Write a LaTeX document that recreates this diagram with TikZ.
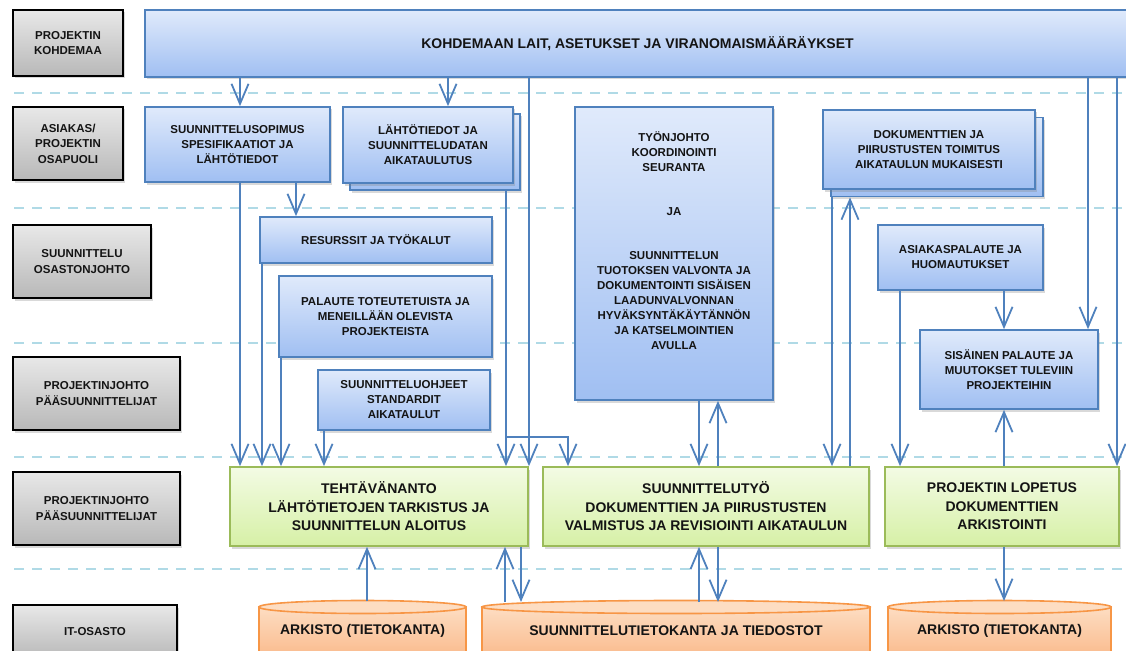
\documentclass[tikz,border=0pt]{standalone}
\usepackage{fontspec}
\setmainfont{Liberation Sans}
\usetikzlibrary{arrows.meta,shadows}
\definecolor{conn}{HTML}{4F81BD}
\definecolor{bborder}{HTML}{4F81BD}
\definecolor{btop}{HTML}{E0EAFB}
\definecolor{bbot}{HTML}{A0BFF2}
\definecolor{gtop}{HTML}{F3FBE4}
\definecolor{gbot}{HTML}{D6F0A6}
\definecolor{gborder}{HTML}{9BBB59}
\definecolor{otop}{HTML}{FDDDC2}
\definecolor{obot}{HTML}{F9B381}
\definecolor{oborder}{HTML}{F79646}
\definecolor{ltop}{HTML}{E8E8E8}
\definecolor{lbot}{HTML}{B8B8B8}
\definecolor{dashc}{HTML}{B0DAE6}
\definecolor{txt}{HTML}{141414}
\begin{document}
\begin{tikzpicture}[x=1pt,y=-1pt,
  base/.style={align=center, inner sep=2pt, text=txt, font=\bfseries\fontsize{11.5}{15}\selectfont},
  shad/.style={drop shadow={shadow xshift=2pt,shadow yshift=-2.5pt,opacity=0.3}},
  lbl/.style={base, shad, draw=black, line width=2.6pt, top color=ltop, bottom color=lbot, font=\bfseries\fontsize{11.5}{15.5}\selectfont},
  bbox/.style={base, shad, draw=bborder, line width=1.7pt, top color=btop, bottom color=bbot},
  gbox/.style={base, shad, draw=gborder, line width=1.7pt, top color=gtop, bottom color=gbot, font=\bfseries\fontsize{14}{18.5}\selectfont},
  sep/.style={draw=dashc, line width=2.3pt, dash pattern=on 10pt off 8pt},
  arr/.style={draw=conn, line width=1.8pt, -{Straight Barb[length=20pt,width=17pt]}},
  cylbody/.style={draw=oborder, line width=1.6pt, top color=otop, bottom color=obot},
  cyltop/.style={draw=oborder, line width=1.6pt, fill=otop},
  ctext/.style={base, font=\bfseries\fontsize{14}{17}\selectfont}
]
\useasboundingbox (0,0) rectangle (1126,650);
\clip (0,0) rectangle (1126,650);

% separators
\foreach \yy in {93,208,343,457,569} {\draw[sep] (14,\yy) -- (1126,\yy);}

% lane labels
\node[lbl, minimum width=110pt, minimum height=66pt] (l1) at (68,43) {PROJEKTIN\\KOHDEMAA};
\node[lbl, minimum width=110pt, minimum height=73pt] (l2) at (68,143.5) {ASIAKAS/\\PROJEKTIN\\OSAPUOLI};
\node[lbl, minimum width=138pt, minimum height=73pt] (l3) at (82,261.5) {SUUNNITTELU\\OSASTONJOHTO};
\node[lbl, minimum width=167pt, minimum height=73pt] (l4) at (96.5,393.5) {PROJEKTINJOHTO\\PÄÄSUUNNITTELIJAT};
\node[lbl, minimum width=167pt, minimum height=73pt] (l5) at (96.5,508.5) {PROJEKTINJOHTO\\PÄÄSUUNNITTELIJAT};
\node[lbl, minimum width=164pt, minimum height=54pt] (l6) at (95,632) {IT-OSASTO};

% top box
\node[bbox, minimum width=985pt, minimum height=67pt, font=\bfseries\fontsize{14}{17}\selectfont] (top) at (637.5,43.5) {KOHDEMAAN LAIT, ASETUKSET JA VIRANOMAISMÄÄRÄYKSET};

% row 2
\node[bbox, minimum width=185pt, minimum height=75pt] (sopimus) at (237.5,144.5) {SUUNNITTELUSOPIMUS\\SPESIFIKAATIOT JA\\LÄHTÖTIEDOT};
\node[bbox, minimum width=170pt, minimum height=76pt] (lahtoBack) at (435,152) {};
\node[bbox, minimum width=170pt, minimum height=76pt] (lahto) at (428,145) {LÄHTÖTIEDOT JA\\SUUNNITTELUDATAN\\AIKATAULUTUS};
\node[bbox, minimum width=198pt, minimum height=293pt] (tyon) at (674,253.5) {};
\node[base, anchor=north, inner sep=0pt] (tyontext) at (674,131) {TYÖNJOHTO\\KOORDINOINTI\\SEURANTA\\[29pt]JA\\[29pt]SUUNNITTELUN\\TUOTOKSEN VALVONTA JA\\DOKUMENTOINTI SISÄISEN\\LAADUNVALVONNAN\\HYVÄKSYNTÄKÄYTÄNNÖN\\JA KATSELMOINTIEN\\AVULLA};
\node[bbox, minimum width=212pt, minimum height=79pt] (dokBack) at (937,157) {};
\node[bbox, minimum width=212pt, minimum height=79pt] (dok) at (929,149.5) {DOKUMENTTIEN JA\\PIIRUSTUSTEN TOIMITUS\\AIKATAULUN MUKAISESTI};

% row 3/4
\node[bbox, minimum width=232pt, minimum height=46pt] (resurssit) at (376,240) {RESURSSIT JA TYÖKALUT};
\node[bbox, minimum width=213pt, minimum height=81pt] (palaute) at (385.5,316.5) {PALAUTE TOTEUTETUISTA JA\\MENEILLÄÄN OLEVISTA\\PROJEKTEISTA};
\node[bbox, minimum width=172pt, minimum height=60pt] (ohjeet) at (404,400) {SUUNNITTELUOHJEET\\STANDARDIT\\AIKATAULUT};
\node[bbox, minimum width=165pt, minimum height=65pt] (asiakas) at (960.5,257.5) {ASIAKASPALAUTE JA\\HUOMAUTUKSET};
\node[bbox, minimum width=178pt, minimum height=79pt] (sisainen) at (1009,369.5) {SISÄINEN PALAUTE JA\\MUUTOKSET TULEVIIN\\PROJEKTEIHIN};

% green row
\node[gbox, minimum width=298pt, minimum height=79pt] (teht) at (379,506.5) {TEHTÄVÄNANTO\\LÄHTÖTIETOJEN TARKISTUS JA\\SUUNNITTELUN ALOITUS};
\node[gbox, minimum width=326pt, minimum height=79pt] (suunn) at (706,506.5) {SUUNNITTELUTYÖ\\DOKUMENTTIEN JA PIIRUSTUSTEN\\VALMISTUS JA REVISIOINTI AIKATAULUN};
\node[gbox, minimum width=234pt, minimum height=79pt] (lopetus) at (1002,506.5) {PROJEKTIN LOPETUS\\DOKUMENTTIEN\\ARKISTOINTI};

% cylinders
\path[cylbody] (259,607) rectangle (466,668);
\draw[cyltop] (362.5,607) ellipse [x radius=103.5, y radius=6.5];
\coordinate (cylLtop) at (362.5,601);
\node[ctext] (cylL) at (362.5,631) {ARKISTO (TIETOKANTA)};
\path[cylbody] (482,607) rectangle (870,668);
\draw[cyltop] (676,607) ellipse [x radius=194, y radius=6.5];
\coordinate (cylMtop) at (676,602);
\node[ctext] (cylM) at (676,631) {SUUNNITTELUTIETOKANTA JA TIEDOSTOT};
\path[cylbody] (888,607) rectangle (1111,668);
\draw[cyltop] (999.5,607) ellipse [x radius=111.5, y radius=6.5];
\coordinate (cylRtop) at (999.5,601);
\node[ctext] (cylR) at (999.5,631) {ARKISTO (TIETOKANTA)};

% connectors
\draw[arr] (240,0 |- top.south) -- (240,0 |- sopimus.north);
\draw[arr] (448,0 |- top.south) -- (448,0 |- lahto.north);
\draw[arr] (529,0 |- top.south) -- (529,0 |- teht.north);
\draw[arr] (1088,0 |- top.south) -- (1088,0 |- sisainen.north);
\draw[arr] (1117,0 |- top.south) -- (1117,0 |- lopetus.north);
\draw[arr] (296,0 |- sopimus.south) -- (296,0 |- resurssit.north);
\draw[arr] (240,0 |- sopimus.south) -- (240,0 |- teht.north);
\draw[arr] (262,0 |- resurssit.south) -- (262,0 |- teht.north);
\draw[arr] (281,0 |- palaute.south) -- (281,0 |- teht.north);
\draw[arr] (324,0 |- ohjeet.south) -- (324,0 |- teht.north);
\draw[arr] (506,0 |- lahtoBack.south) -- (506,0 |- teht.north);
\coordinate (br) at (506,437);
\draw[arr] (br) -- (br -| 568,0) -- (568,0 |- suunn.north);
\draw[arr] (699,0 |- tyon.south) -- (699,0 |- suunn.north);
\draw[arr] (718,0 |- suunn.north) -- (718,0 |- tyon.south);
\draw[arr] (832,0 |- dokBack.south) -- (832,0 |- suunn.north);
\draw[arr] (850,0 |- suunn.north) -- (850,0 |- dokBack.south);
\draw[arr] (900,0 |- asiakas.south) -- (900,0 |- lopetus.north);
\draw[arr] (1004,0 |- asiakas.south) -- (1004,0 |- sisainen.north);
\draw[arr] (1004,0 |- lopetus.north) -- (1004,0 |- sisainen.south);
\draw[arr] (1004,0 |- lopetus.south) -- (1004,0 |- cylRtop);
\draw[arr] (367,0 |- cylLtop) -- (367,0 |- teht.south);
\draw[arr] (505,0 |- cylMtop) -- (505,0 |- teht.south);
\draw[arr] (521,0 |- teht.south) -- (521,0 |- cylMtop);
\draw[arr] (699,0 |- cylMtop) -- (699,0 |- suunn.south);
\draw[arr] (718,0 |- suunn.south) -- (718,0 |- cylMtop);
\end{tikzpicture}
\end{document}
